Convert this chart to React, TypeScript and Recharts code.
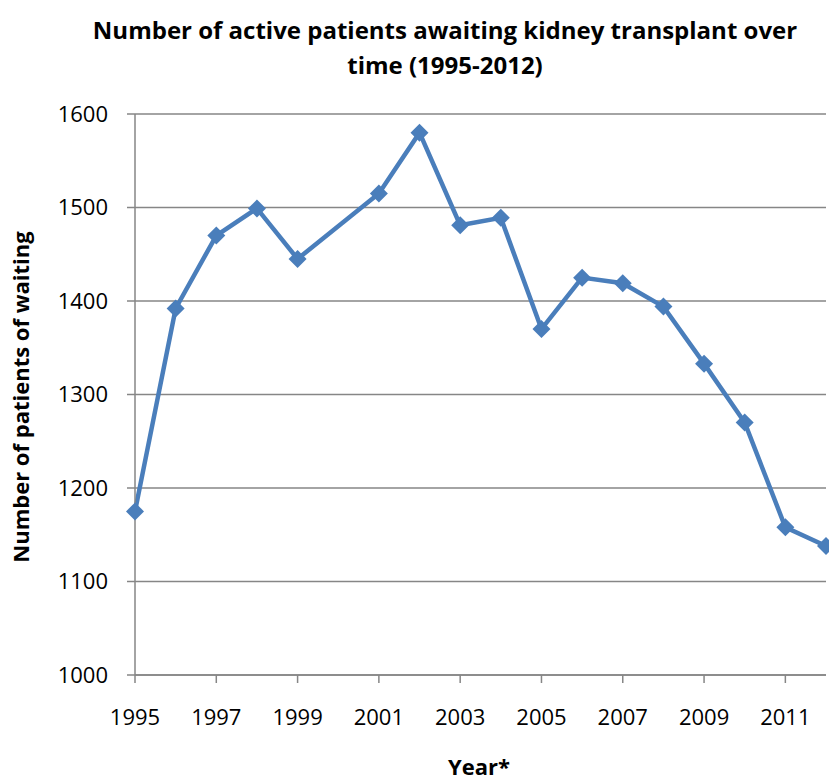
import { LineChart, Line, XAxis, YAxis, CartesianGrid } from 'recharts';

// 2000 has no value in the source chart, the line jumps 1999 -> 2001
const years = [1995, 1996, 1997, 1998, 1999, 2001, 2002, 2003, 2004, 2005, 2006, 2007, 2008, 2009, 2010, 2011, 2012];
const patients = [1175, 1392, 1470, 1499, 1445, 1515, 1580, 1481, 1489, 1370, 1425, 1419, 1394, 1333, 1270, 1158, 1138];
const yearTicks = [1995, 1997, 1999, 2001, 2003, 2005, 2007, 2009, 2011];
const countTicks = [1000, 1100, 1200, 1300, 1400, 1500, 1600];

const data = years.map((year, i) => ({ year, patients: patients[i] }));

const BLUE = '#4A7EBB';
const GREY = '#868686';
const FONT = '"Open Sans", sans-serif';

function Diamond(props: any) {
  const { cx, cy, index } = props;
  if (cx == null || cy == null) return <g key={`d-${index}`} />;
  const r = 9;
  return (
    <polygon
      key={`d-${index}`}
      points={`${cx},${cy - r} ${cx + r},${cy} ${cx},${cy + r} ${cx - r},${cy}`}
      fill={BLUE}
      stroke="none"
    />
  );
}

export default function App() {
  return (
    <div style={{ position: 'absolute', left: 0, top: 0, width: 829, height: 780, background: '#fff', fontFamily: FONT }}>
      <LineChart width={829} height={780} data={data} margin={{ top: 114, right: 3, bottom: 45, left: 0 }}>
        <CartesianGrid vertical={false} stroke={GREY} strokeWidth={1.5} />
        <XAxis
          dataKey="year"
          type="number"
          domain={[1995, 2012]}
          ticks={yearTicks}
          height={60}
          stroke={GREY}
          strokeWidth={1.5}
          tickSize={8}
          tickMargin={26}
          tick={{ fill: '#000', fontSize: 22, fontFamily: FONT }}
        />
        <YAxis
          type="number"
          domain={[1000, 1600]}
          ticks={countTicks}
          width={135}
          stroke={GREY}
          strokeWidth={1.5}
          tickSize={8}
          tickMargin={19}
          tick={{ fill: '#000', fontSize: 22, fontFamily: FONT }}
        />
        <Line
          dataKey="patients"
          stroke={BLUE}
          strokeWidth={4.5}
          dot={Diamond}
          activeDot={false}
          isAnimationActive={false}
        />
      </LineChart>
      <div
        style={{
          position: 'absolute',
          left: 445 - 400,
          top: 12,
          width: 800,
          textAlign: 'center',
          fontWeight: 700,
          fontSize: 24,
          lineHeight: '35px',
          color: '#000',
        }}
      >
        Number of active patients awaiting kidney transplant over
        <br />
        time (1995-2012)
      </div>
      <div
        style={{
          position: 'absolute',
          left: 20 - 200,
          top: 397 - 15,
          width: 400,
          height: 30,
          lineHeight: '30px',
          textAlign: 'center',
          fontWeight: 700,
          fontSize: 22,
          transform: 'rotate(-90deg)',
          color: '#000',
        }}
      >
        Number of patients of waiting
      </div>
      <div
        style={{
          position: 'absolute',
          left: 479 - 100,
          top: 752,
          width: 200,
          lineHeight: '28px',
          textAlign: 'center',
          fontWeight: 700,
          fontSize: 22,
          color: '#000',
        }}
      >
        Year*
      </div>
    </div>
  );
}
